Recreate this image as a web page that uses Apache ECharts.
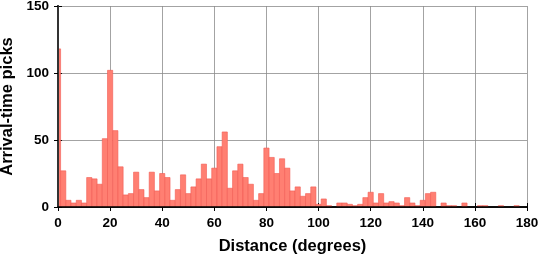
<!DOCTYPE html>
<html>
<head>
<meta charset="utf-8">
<script src="https://cdn.jsdelivr.net/npm/echarts@6/dist/echarts.min.js"></script>
<style>
html,body{margin:0;padding:0;background:#fff;}
#chart{width:539px;height:258px;}
</style>
</head>
<body>
<div id="chart"></div>
<script>
// Bin centres (degrees), 2-degree bins
var binCenters = [];
for (var c = 0; c <= 180; c += 2) binCenters.push(c);
// Counts per bin (centre 0,2,4,...,180)
var counts = [
  118, 27, 5, 3, 5, 3, 22, 21, 17, 51,
  102, 57, 30, 9, 10, 26, 13, 7, 26, 12,
  25, 22, 5, 13, 24, 10, 15, 21, 32, 21,
  29, 45, 56, 14, 27, 32, 22, 17, 5, 10,
  44, 37, 25, 36, 29, 12, 15, 8, 10, 15,
  2, 6, 1, 0, 3, 3, 2, 1, 2, 7,
  11, 3, 10, 3, 4, 3, 1, 7, 3, 1,
  5, 10, 11, 0, 3, 1, 1, 0, 3, 0,
  0, 1, 1, 0, 0, 1, 0, 0, 1, 0,
  0
];
var binWidth = 2;
var xTicks = [0, 20, 40, 60, 80, 100, 120, 140, 160, 180];
var yTicks = [0, 50, 100, 150];

var data = binCenters.map(function (c, i) { return [c, counts[i]]; });

var chart = echarts.init(document.getElementById('chart'), null, {renderer: 'canvas'});
var font = 'Liberation Sans, Arial, Helvetica, sans-serif';
var option = {
  animation: false,
  backgroundColor: '#fff',
  grid: {left: 58, right: 12, top: 6, bottom: 51, containLabel: false, outerBoundsMode: 'none'},
  xAxis: [
    {
      type: 'value', min: 0, max: 180, interval: 20, position: 'bottom', z: 5,
      name: 'Distance (degrees)', nameLocation: 'middle', nameGap: 31,
      nameTextStyle: {fontFamily: font, fontWeight: 'bold', fontSize: 16.5, color: '#000'},
      axisLine: {show: true, lineStyle: {color: '#000', width: 1.5}},
      axisTick: {show: true, inside: false, length: 4, lineStyle: {color: '#000', width: 1}},
      axisLabel: {show: true, margin: 9, fontFamily: font, fontWeight: 'bold', fontSize: 13.5, color: '#000',
        formatter: function (v) { return xTicks.indexOf(v) >= 0 ? String(v) : ''; }},
      splitLine: {show: false}
    },
    {
      type: 'value', min: 0, max: 180, interval: 20, position: 'top', z: 0,
      axisLine: {show: true, lineStyle: {color: '#000', width: 1.5}},
      axisTick: {show: true, inside: false, length: 4, lineStyle: {color: '#000', width: 1}},
      axisLabel: {show: false},
      splitLine: {show: true, lineStyle: {color: '#8c8c8c', width: 0.8}}
    }
  ],
  yAxis: [
    {
      type: 'value', min: 0, max: 150, interval: 50, position: 'left', z: 5,
      name: 'Arrival-time picks', nameLocation: 'middle', nameGap: 42, nameRotate: 90,
      nameTextStyle: {fontFamily: font, fontWeight: 'bold', fontSize: 16.5, color: '#000'},
      axisLine: {show: true, lineStyle: {color: '#333', width: 2}},
      axisTick: {show: true, inside: false, length: 4, lineStyle: {color: '#000', width: 1}},
      axisLabel: {show: true, margin: 9, fontFamily: font, fontWeight: 'bold', fontSize: 13.5, color: '#000',
        formatter: function (v) { return yTicks.indexOf(v) >= 0 ? String(v) : ''; }},
      splitLine: {show: false}
    },
    {
      type: 'value', min: 0, max: 150, interval: 50, position: 'right', z: 0,
      axisLine: {show: true, lineStyle: {color: '#333', width: 2}},
      axisTick: {show: true, inside: false, length: 4, lineStyle: {color: '#000', width: 1}},
      axisLabel: {show: false},
      splitLine: {show: true, lineStyle: {color: '#8c8c8c', width: 0.8}}
    }
  ],
  series: [{
    type: 'custom',
    xAxisIndex: 0, yAxisIndex: 0,
    clip: true,
    z: 2,
    data: data,
    renderItem: function (params, api) {
      var c = api.value(0), v = api.value(1);
      if (!v) return null;
      var x0 = Math.max(0, c - binWidth / 2), x1 = Math.min(180, c + binWidth / 2);
      var p0 = api.coord([x0, v]);
      var p1 = api.coord([x1, 0]);
      return {
        type: 'rect',
        shape: {x: p0[0], y: p0[1], width: p1[0] - p0[0], height: p1[1] - p0[1]},
        style: {fill: '#FF7F72', stroke: '#F25A52', lineWidth: 0.6}
      };
    }
  }]
};
chart.setOption(option);
</script>
</body>
</html>
